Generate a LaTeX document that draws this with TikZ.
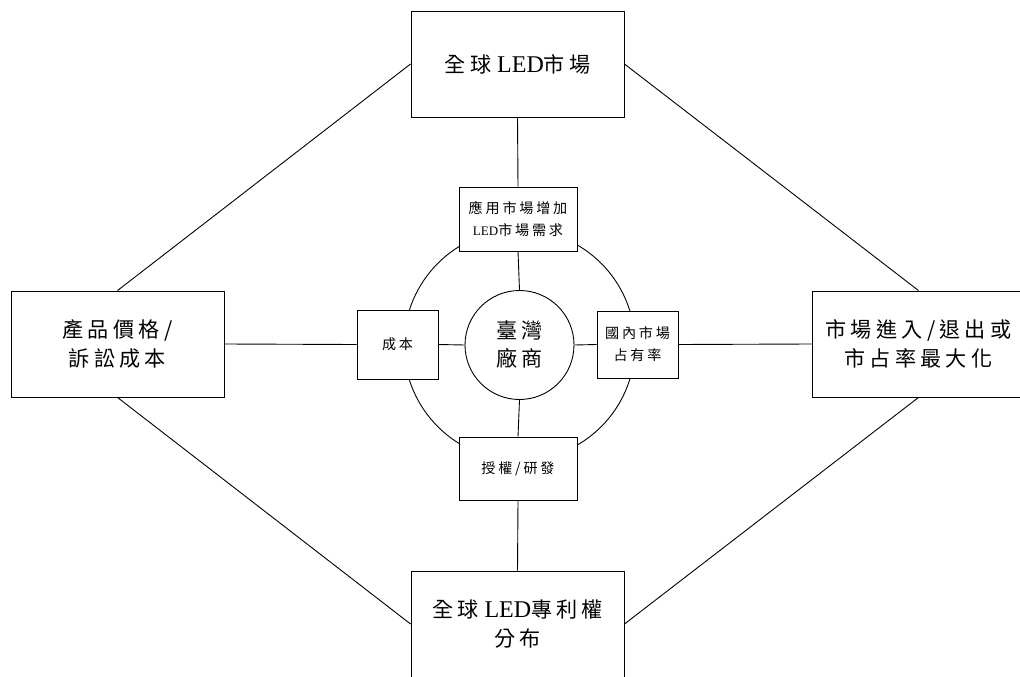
\documentclass[tikz,border=0pt]{standalone}
\usepackage{fontspec}
\setmainfont{Liberation Serif}
\newfontfamily\cjk[Scale=0.88,LetterSpace=20]{Noto Sans CJK TC}
\begin{document}
\begin{tikzpicture}[x=1pt,y=-1pt,
  line width=0.9pt,
  bigbox/.style={draw,fill=white,minimum width=213pt,minimum height=106pt,inner sep=0pt,align=center,font=\fontsize{24}{29}\selectfont},
  smallbox/.style={draw,fill=white,inner sep=0pt,align=center,font=\fontsize{16}{22}\selectfont},
  hub/.style={draw,fill=white,circle,minimum size=109pt,inner sep=0pt,align=center,font=\fontsize{24}{28}\selectfont}]
\useasboundingbox (0,0) rectangle (1020,677);
\clip (0,0) rectangle (1020,677);
\coordinate (c) at (519.5,345);
\draw (c) circle[radius=115.5pt];
\node[bigbox] (top) at (517.5,64) {{\cjk 全球} LED{\cjk 市場}};
\node[bigbox] (left) at (117.5,344) {\cjk 產品價格/\\\cjk 訴訟成本};
\node[bigbox] (right) at (918.5,344) {\cjk 市場進入/退出或\\\cjk 市占率最大化};
\node[bigbox] (bottom) at (517.5,624) {{\cjk 全球} LED{\cjk 專利權}\\\cjk 分布};
\node[smallbox,minimum width=118pt,minimum height=64pt] (st) at (518,219) {\cjk 應用市場增加\\{\fontsize{13}{22}\selectfont LED}{\cjk 市場需求}};
\node[smallbox,minimum width=118pt,minimum height=63pt] (sb) at (518,468.5) {\cjk 授權/研發};
\node[smallbox,minimum width=81pt,minimum height=69pt] (cost) at (397.5,344.5) {\cjk 成本};
\node[smallbox,minimum width=81pt,minimum height=67pt] (share) at (637.5,344.5) {\cjk 國內市場\\\cjk 占有率};
\node[hub] (hub) at (c) {\cjk 臺灣\\\cjk 廠商};
\draw (top.west) -- (left.north);
\draw (left.south) -- (bottom.west);
\draw (top.east) -- (right.north);
\draw (right.south) -- (bottom.east);
\draw (top.south) -- (st.north);
\draw (st.south) -- (hub.north);
\draw (hub.south) -- (sb.north);
\draw (sb.south) -- (bottom.north);
\draw (left.east) -- (cost.west);
\draw (cost.east) -- (hub.west);
\draw (hub.east) -- (share.west);
\draw (share.east) -- (right.west);
\end{tikzpicture}
\end{document}
